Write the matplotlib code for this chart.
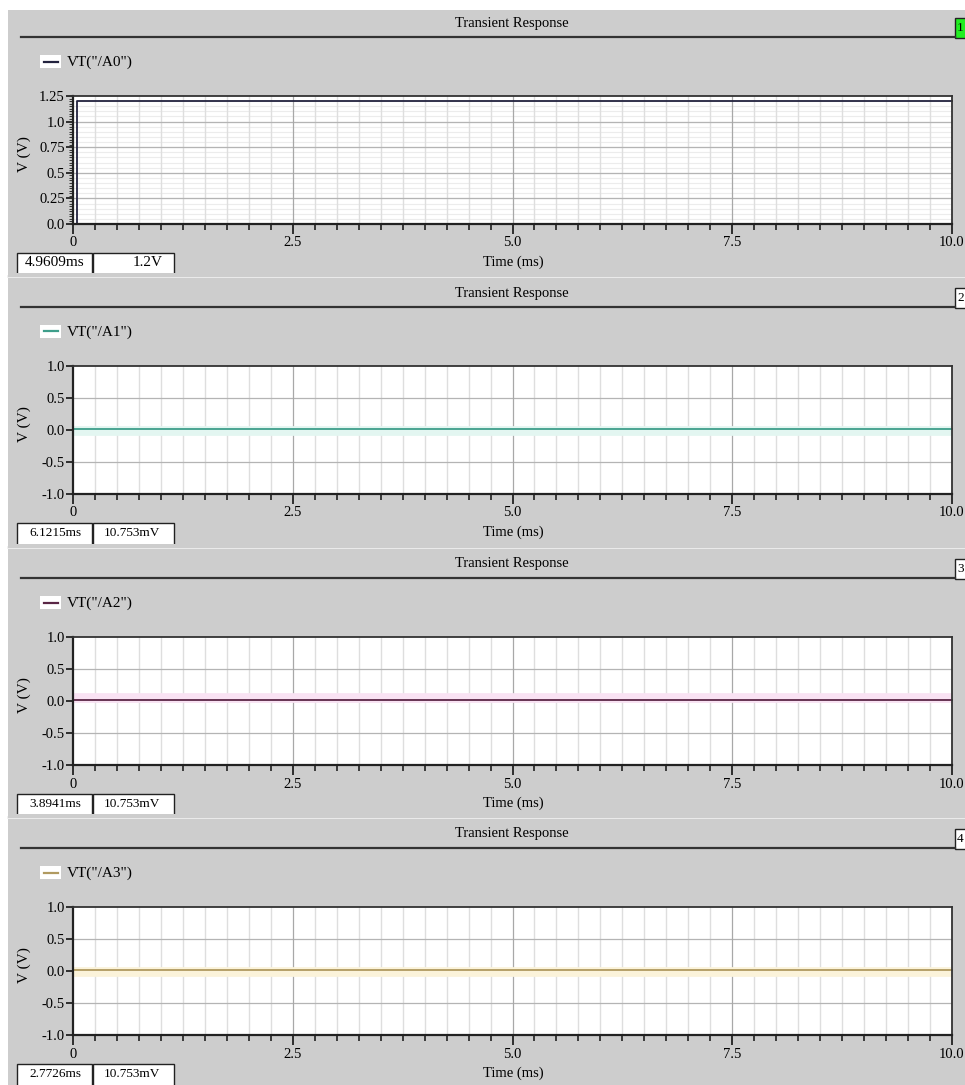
import numpy as np
import matplotlib
matplotlib.use("Agg")
import matplotlib.pyplot as plt
from matplotlib.patches import Rectangle
from matplotlib.lines import Line2D
from matplotlib.ticker import MultipleLocator

plt.rcParams['font.family'] = ['Liberation Serif', 'DejaVu Serif']

# ---- waveform data (time in ms, voltage in V) ----
signal_names = ['VT("/A0")', 'VT("/A1")', 'VT("/A2")', 'VT("/A3")']
time_a0 = [0.0, 0.05, 0.05, 10.0]
volt_a0 = [0.0, 0.0, 1.2, 1.2]
time_a1 = [0.0, 10.0]
volt_a1 = [0.010753, 0.010753]
time_a2 = [0.0, 10.0]
volt_a2 = [0.010753, 0.010753]
time_a3 = [0.0, 10.0]
volt_a3 = [0.010753, 0.010753]
cursor_times = [4.9609, 6.1215, 3.8941, 2.7726]

x_ticks = [0.0, 2.5, 5.0, 7.5, 10.0]
x_tick_labels = ['0', '2.5', '5.0', '7.5', '10.0']
y_ticks_a0 = [0.0, 0.25, 0.5, 0.75, 1.0, 1.25]
y_tick_labels_a0 = ['0.0', '0.25', '0.5', '0.75', '1.0', '1.25']
y_ticks_ax = [-1.0, -0.5, 0.0, 0.5, 1.0]
y_tick_labels_ax = ['-1.0', '-0.5', '0.0', '0.5', '1.0']

series = [(time_a0, volt_a0), (time_a1, volt_a1), (time_a2, volt_a2), (time_a3, volt_a3)]
trace_colors = ['#23233f', '#3e9e8a', '#5a2646', '#b09a60']
glow_colors = [None, '#e3f6f1', '#f9e2f3', '#fbf3da']
glow_offsets = [0.0, -0.03, 0.035, -0.02]

W, H = 965, 1085
fig = plt.figure(figsize=(W / 100, H / 100), dpi=100, facecolor='white')


def fx(x):
    return x / W


def fy(y):
    return 1 - y / H


def hline(x0, x1, y, color, lw):
    fig.add_artist(Line2D([fx(x0), fx(x1)], [fy(y), fy(y)], color=color, lw=lw,
                          transform=fig.transFigure))


def fmt_volt(v):
    if abs(v) >= 1:
        return f"{v:g}V"
    return f"{v * 1000:.5g}mV"


# window background
fig.add_artist(Rectangle((fx(8), 0), 1 - fx(8), fy(10), transform=fig.transFigure,
                         facecolor='#cdcdcd', edgecolor='none', zorder=0))

ax_left, ax_right = 73, 952
ax_tops = [96, 366, 637, 907]
ax_h = 128
tick_fs = 10.5

for i, top in enumerate(ax_tops):
    bottom = top + ax_h
    ax = fig.add_axes([fx(ax_left), fy(bottom), fx(ax_right - ax_left), ax_h / H])
    ax.set_facecolor('white')
    ax.set_xlim(0, 10)
    if i == 0:
        ax.set_ylim(0, 1.25)
        ax.set_yticks(y_ticks_a0)
        ax.set_yticklabels(y_tick_labels_a0)
        ax.yaxis.set_minor_locator(MultipleLocator(0.025))
        for yv in np.arange(0.05, 1.25, 0.05):
            ax.axhline(yv, color='#ececec', lw=0.8, zorder=0)
        for yv in y_ticks_a0[1:-1]:
            ax.axhline(yv, color='#b4b4b4', lw=0.9, zorder=0.5)
    else:
        ax.set_ylim(-1, 1)
        ax.set_yticks(y_ticks_ax)
        ax.set_yticklabels(y_tick_labels_ax)
        for yv in y_ticks_ax[1:-1]:
            ax.axhline(yv, color='#b4b4b4', lw=0.9, zorder=0.5)
    ax.set_xticks(x_ticks)
    ax.set_xticklabels(x_tick_labels)
    ax.xaxis.set_minor_locator(MultipleLocator(0.25))
    for xv in np.arange(0.25, 10, 0.25):
        if abs(xv / 2.5 - round(xv / 2.5)) < 1e-6:
            ax.axvline(xv, color='#a8a8a8', lw=0.9, zorder=0.6)
        else:
            ax.axvline(xv, color='#dedede', lw=1.0, zorder=0.4)

    ax.tick_params(axis='both', which='major', direction='out', length=7, width=1.3,
                   color='#222222', labelsize=tick_fs, pad=2)
    ax.tick_params(axis='y', which='major', length=5, pad=1)
    ax.tick_params(axis='x', which='minor', direction='out', length=4, width=1.2,
                   color='#222222')
    ax.tick_params(axis='y', which='minor', direction='out', length=3, width=0.7,
                   color='#333333')
    ax.tick_params(top=False, right=False, which='both')
    for s in ['left', 'bottom']:
        ax.spines[s].set_linewidth(1.6)
        ax.spines[s].set_color('#222222')
    for s in ['top', 'right']:
        ax.spines[s].set_linewidth(1.3)
        ax.spines[s].set_color('#333333')

    t, v = series[i]
    if glow_colors[i]:
        ax.plot(t, np.array(v) + glow_offsets[i], color=glow_colors[i], lw=7, zorder=1,
                solid_capstyle='butt')
    ax.plot(t, v, color=trace_colors[i], lw=1.3, zorder=2, clip_on=False)

    ax.set_ylabel('V (V)', fontsize=11)
    ax.yaxis.set_label_coords((31 - ax_left) / (ax_right - ax_left), 0.55)

    # header: title, rule, panel number box
    fig.text(fx(512), fy(top - 73), 'Transient Response', ha='center', va='center',
             fontsize=10.5)
    hline(21, 955, top - 59, '#333333', 1.6)
    fig.add_artist(Rectangle((fx(955), fy(top - 58)), fx(12), 20 / H,
                             transform=fig.transFigure,
                             facecolor='#22ee22' if i == 0 else 'white',
                             edgecolor='#222222', lw=1.0))
    fig.text(fx(957), fy(top - 68), str(i + 1), ha='left', va='center', fontsize=9.5)

    # legend entry
    fig.add_artist(Rectangle((fx(40), fy(top - 28)), fx(21), 13 / H,
                             transform=fig.transFigure, facecolor='white',
                             edgecolor='none'))
    fig.add_artist(Line2D([fx(44), fx(58)], [fy(top - 34.5), fy(top - 34.5)],
                          color=trace_colors[i], lw=1.6, transform=fig.transFigure))
    fig.text(fx(67), fy(top - 34), signal_names[i], ha='left', va='center', fontsize=11)

    # x label
    fig.text(fx(513), fy(bottom + 38), 'Time (ms)', ha='center', va='center',
             fontsize=10.5)

    # cursor readout boxes
    ct = cursor_times[i]
    cv = float(np.interp(ct, t, v))
    fsz = 11 if i == 0 else 9.5
    box_top = bottom + 29
    fig.add_artist(Rectangle((fx(17), fy(box_top + 22)), fx(75), 22 / H,
                             transform=fig.transFigure, facecolor='white',
                             edgecolor='#222222', lw=1.0))
    fig.add_artist(Rectangle((fx(93), fy(box_top + 22)), fx(81), 22 / H,
                             transform=fig.transFigure, facecolor='white',
                             edgecolor='#222222', lw=1.0))
    fig.text(fx(55), fy(box_top + 10), f"{ct:.4f}ms", ha='center', va='center', fontsize=fsz)
    fig.text(fx(132 if i else 148), fy(box_top + 10), fmt_volt(cv), ha='center',
             va='center', fontsize=fsz)

# panel separators drawn over the readout boxes
for ysep in [276, 547, 817]:
    fig.add_artist(Rectangle((fx(8), fy(ysep + 1)), 1, 4 / H, transform=fig.transFigure,
                             facecolor='#cdcdcd', edgecolor='none', zorder=5))
    hline(8, 965, ysep, '#eeeeee', 2.0)

fig.savefig('out.png', dpi=100, facecolor='white')
